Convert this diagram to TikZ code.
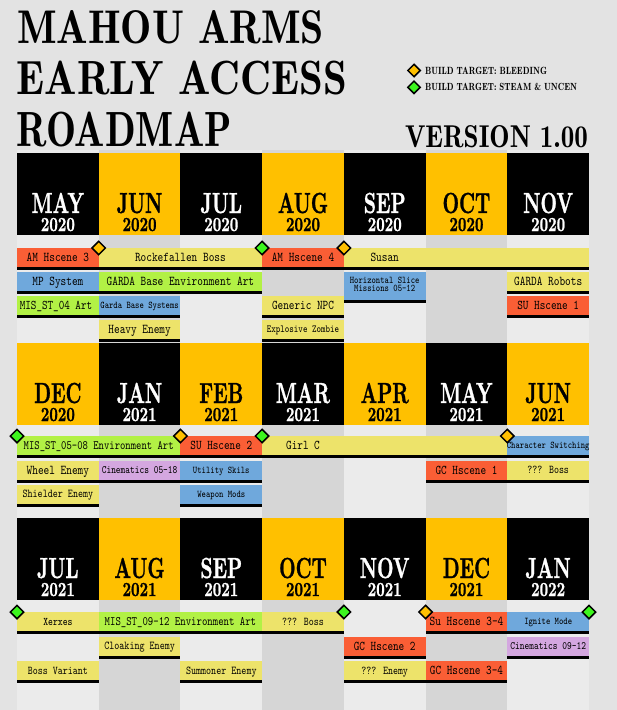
\documentclass[tikz,border=0pt]{standalone}
\usepackage{fontspec}
\usetikzlibrary{shapes.geometric}
\newfontfamily\demifont{lmromandemi10-regular.otf}
\newfontfamily\monfont[FakeBold=1.2]{lmroman10-bold.otf}
\definecolor{bgc}{HTML}{E3E3E3}
\definecolor{stl}{HTML}{EBEBEB}
\definecolor{std}{HTML}{D6D6D6}
\definecolor{hy}{HTML}{FFC000}
\definecolor{cred}{HTML}{FA5E35}
\definecolor{cyel}{HTML}{EDE36A}
\definecolor{cgrn}{HTML}{B2F145}
\definecolor{cblu}{HTML}{6FA8DC}
\definecolor{cpur}{HTML}{D4A7E0}
\definecolor{dorg}{HTML}{FFC000}
\definecolor{dgrn}{HTML}{3DF51E}
\tikzset{
  bartext/.style={anchor=base, inner sep=0pt, outer sep=0pt},
  hdrbox/.style={rectangle, anchor=north west, minimum width=81.714pt, minimum height=82pt, inner sep=0pt, outer sep=0pt},
  hdrtext/.style={anchor=base, inner sep=0pt, outer sep=0pt},
  dmd/.style={diamond, draw=black, line width=1.5pt, minimum width=14pt, minimum height=14pt, inner sep=0pt},
  ttl/.style={anchor=base west, inner sep=0pt, outer sep=0pt, font=\demifont},
}
% name x1 x2 top color size textx text
\newcommand\tbar[8]{%
  \fill[#5] (#2,#4) rectangle (#3,#4+19);
  \fill[black] (#2,#4+19) rectangle (#3,#4+22);
  \node[bartext, font=\fontsize{#6}{#6}\selectfont\ttfamily] (#1) at (#7,{#4+9.5+0.38*#6}) {\scalebox{1}[1.25]{#8}};
}
% name col top fill textcolor month year
\newcommand\mhdr[7]{%
  \node[hdrbox, fill=#4] (#1) at ({17+81.714*#2},#3) {};
  \node[hdrtext, text=#5, font=\fontsize{29}{29}\selectfont\monfont] (#1m) at ({17+81.714*(#2+0.5)},#3+60) {\scalebox{0.66}[1]{#6}};
  \node[hdrtext, text=#5, font=\fontsize{20}{20}\selectfont\monfont] (#1y) at ({17+81.714*(#2+0.5)},#3+78) {\scalebox{0.74}[1]{#7}};
}
\begin{document}
\begin{tikzpicture}[x=1pt,y=-1pt]
\useasboundingbox (0,0) rectangle (617,710);
\fill[bgc] (0,0) rectangle (617,710);
% column stripes
\foreach \i in {0,2,4,6} \fill[stl] ({17+81.714*\i},150) rectangle ({17+81.714*(\i+1)},710);
\foreach \i in {1,3,5} \fill[std] ({17+81.714*\i},150) rectangle ({17+81.714*(\i+1)},710);

% title
\node[ttl] (t1) at (17,43.3) {\resizebox{307pt}{33pt}{MAHOU ARMS}};
\node[ttl] (t2) at (16.7,94) {\resizebox{330pt}{33.5pt}{EARLY ACCESS}};
\node[ttl] (t3) at (16.7,146.7) {\resizebox{215pt}{34.5pt}{ROADMAP}};
\node[ttl] (ver) at (405,147) {\resizebox{183pt}{22pt}{VERSION 1.00}};
% legend
\node[dmd, fill=dorg, minimum width=13pt, minimum height=13pt] (ld1) at (414,70.5) {};
\node[dmd, fill=dgrn, minimum width=13pt, minimum height=13pt] (ld2) at (414,87.3) {};
\node[ttl] (l1) at (425,74) {\resizebox{122pt}{7.3pt}{BUILD TARGET: BLEEDING}};
\node[ttl] (l2) at (425,90.7) {\resizebox{152pt}{7.3pt}{BUILD TARGET: STEAM \& UNCEN}};

% headers row 1
\mhdr{h11}{0}{153}{black}{white}{MAY}{2020}
\mhdr{h12}{1}{153}{hy}{black}{JUN}{2020}
\mhdr{h13}{2}{153}{black}{white}{JUL}{2020}
\mhdr{h14}{3}{153}{hy}{black}{AUG}{2020}
\mhdr{h15}{4}{153}{black}{white}{SEP}{2020}
\mhdr{h16}{5}{153}{hy}{black}{OCT}{2020}
\mhdr{h17}{6}{153}{black}{white}{NOV}{2020}
% headers row 2
\mhdr{h21}{0}{343}{hy}{black}{DEC}{2020}
\mhdr{h22}{1}{343}{black}{white}{JAN}{2021}
\mhdr{h23}{2}{343}{hy}{black}{FEB}{2021}
\mhdr{h24}{3}{343}{black}{white}{MAR}{2021}
\mhdr{h25}{4}{343}{hy}{black}{APR}{2021}
\mhdr{h26}{5}{343}{black}{white}{MAY}{2021}
\mhdr{h27}{6}{343}{hy}{black}{JUN}{2021}
% headers row 3
\mhdr{h31}{0}{518}{black}{white}{JUL}{2021}
\mhdr{h32}{1}{518}{hy}{black}{AUG}{2021}
\mhdr{h33}{2}{518}{black}{white}{SEP}{2021}
\mhdr{h34}{3}{518}{hy}{black}{OCT}{2021}
\mhdr{h35}{4}{518}{black}{white}{NOV}{2021}
\mhdr{h36}{5}{518}{hy}{black}{DEC}{2021}
\mhdr{h37}{6}{518}{black}{white}{JAN}{2022}

% row 1 bars
\tbar{r1a}{17}{98.7}{248}{cred}{10.8}{57.9}{AM Hscene 3}
\tbar{r1b}{98.7}{262.1}{248}{cyel}{10.8}{180.4}{Rockefallen Boss}
\tbar{r1c}{262.1}{343.9}{248}{cred}{10.8}{303}{AM Hscene 4}
\tbar{r1d}{343.9}{589}{248}{cyel}{10.8}{384.7}{Susan}
\tbar{r1e}{17}{98.7}{272}{cblu}{10.8}{57.9}{MP System}
\tbar{r1f}{98.7}{262.1}{272}{cgrn}{10.8}{180.4}{GARDA Base Environment Art}
\fill[cblu] (343.9,272) rectangle (425.6,300);
\fill[black] (343.9,300) rectangle (425.6,303);
\node[bartext, font=\fontsize{8.2}{8.2}\selectfont\ttfamily] (r1g) at (384.7,283.5) {\scalebox{1}[1.25]{Horizontal Slice}};
\node[bartext, font=\fontsize{8.2}{8.2}\selectfont\ttfamily] (r1g2) at (384.7,291.7) {\scalebox{1}[1.25]{Missions 05-12}};
\tbar{r1h}{507.3}{589}{272}{cyel}{10.8}{548.2}{GARDA Robots}
\tbar{r1i}{17}{98.7}{296}{cgrn}{10.6}{56}{MIS\_ST\_04 Art}
\tbar{r1j}{98.7}{180.4}{296}{cblu}{8.2}{139.6}{Garda Base Systems}
\tbar{r1k}{262.1}{343.9}{296}{cyel}{10.7}{303}{Generic NPC}
\tbar{r1l}{507.3}{589}{296}{cred}{10.7}{548.2}{SU Hscene 1}
\tbar{r1m}{98.7}{180.4}{320}{cyel}{10.8}{139.6}{Heavy Enemy}
\tbar{r1n}{262.1}{343.9}{320}{cyel}{8.6}{303}{Explosive Zombie}

% row 2 bars
\tbar{r2a}{17}{180.4}{436}{cgrn}{10.2}{98.7}{MIS\_ST\_05-08 Environment Art}
\tbar{r2b}{180.4}{262.1}{436}{cred}{10.7}{221.3}{SU Hscene 2}
\tbar{r2c}{262.1}{507.3}{436}{cyel}{10.7}{303}{Girl C}
\tbar{r2d}{507.3}{589}{436}{cblu}{8.2}{548.2}{Character Switching}
\tbar{r2e}{17}{98.7}{460.5}{cyel}{10.8}{57.9}{Wheel Enemy}
\tbar{r2f}{98.7}{180.4}{460.5}{cpur}{9.0}{139.6}{Cinematics 05-18}
\tbar{r2g}{180.4}{262.1}{460.5}{cblu}{8.2}{221.3}{Utility Skils}
\tbar{r2h}{425.6}{507.3}{460.5}{cred}{10.7}{466.5}{GC Hscene 1}
\tbar{r2i}{507.3}{589}{460.5}{cyel}{9.5}{548.2}{??? Boss}
\tbar{r2j}{17}{98.7}{484.5}{cyel}{9.6}{57.9}{Shielder Enemy}
\tbar{r2k}{180.4}{262.1}{484.5}{cblu}{8.2}{221.3}{Weapon Mods}

% row 3 bars
\tbar{r3a}{17}{98.7}{612}{cyel}{9.3}{57.9}{Xerxes}
\tbar{r3b}{98.7}{262.1}{612}{cgrn}{10.3}{180.4}{MIS\_ST\_09-12 Environment Art}
\tbar{r3c}{262.1}{343.9}{612}{cyel}{9.5}{303}{??? Boss}
\tbar{r3d}{425.6}{507.3}{612}{cred}{10.8}{466.5}{Su Hscene 3-4}
\tbar{r3e}{507.3}{589}{612}{cblu}{8.2}{548.2}{Ignite Mode}
\tbar{r3f}{98.7}{180.4}{636.5}{cyel}{9.6}{139.6}{Cloaking Enemy}
\tbar{r3g}{343.9}{425.6}{636.5}{cred}{10.7}{384.7}{GC Hscene 2}
\tbar{r3h}{507.3}{589}{636.5}{cpur}{9.0}{548.2}{Cinematics 09-12}
\tbar{r3i}{17}{98.7}{661}{cyel}{9.5}{57.9}{Boss Variant}
\tbar{r3j}{180.4}{262.1}{661}{cyel}{9.6}{221.3}{Summoner Enemy}
\tbar{r3k}{343.9}{425.6}{661}{cyel}{9.5}{384.7}{??? Enemy}
\tbar{r3l}{425.6}{507.3}{661}{cred}{10.7}{466.5}{GC Hscene 3-4}

% milestone diamonds
\node[dmd, fill=dorg] (m11) at (98.7,248) {};
\node[dmd, fill=dgrn] (m12) at (262.1,248) {};
\node[dmd, fill=dorg] (m13) at (343.9,248) {};
\node[dmd, fill=dgrn] (m21) at (17,436) {};
\node[dmd, fill=dorg] (m22) at (180.4,436) {};
\node[dmd, fill=dgrn] (m23) at (262.1,436) {};
\node[dmd, fill=dorg] (m24) at (507.3,436) {};
\node[dmd, fill=dgrn] (m31) at (17,612) {};
\node[dmd, fill=dgrn] (m32) at (343.9,612) {};
\node[dmd, fill=dorg] (m33) at (425.6,612) {};
\node[dmd, fill=dgrn] (m34) at (589,612) {};
\end{tikzpicture}
\end{document}
